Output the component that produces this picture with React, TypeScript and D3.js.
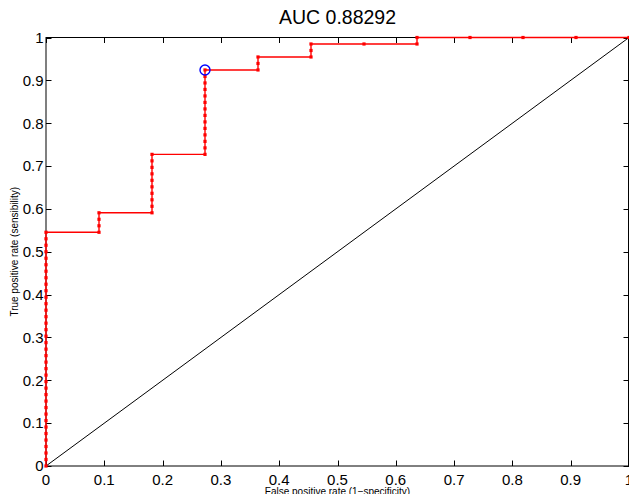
import React from "react";
import * as d3 from "d3";

// ROC operating points, as counts of false positives (of 11 negatives)
// and true positives (of 66 positives)
const negatives = 11;
const positives = 66;
const fpCounts = [
  0, 0, 0, 0, 0, 0, 0, 0, 0, 0, 0, 0, 0, 0, 0, 0, 0, 0, 0, 0, 0, 0, 0, 0, 0, 0, 0, 0, 0, 0, 0, 0, 0, 0, 0, 0, 0,
  1, 1, 1, 1,
  2, 2, 2, 2, 2, 2, 2, 2, 2, 2,
  3, 3, 3, 3, 3, 3, 3, 3, 3, 3, 3, 3, 3, 3,
  4, 4, 4,
  5, 5, 5,
  6,
  7, 7,
  8, 9, 10, 11,
];
const tpCounts = [
  0, 1, 2, 3, 4, 5, 6, 7, 8, 9, 10, 11, 12, 13, 14, 15, 16, 17, 18, 19, 20, 21, 22, 23, 24, 25, 26, 27, 28, 29, 30, 31, 32, 33, 34, 35, 36,
  36, 37, 38, 39,
  39, 40, 41, 42, 43, 44, 45, 46, 47, 48,
  48, 49, 50, 51, 52, 53, 54, 55, 56, 57, 58, 59, 60, 61,
  61, 62, 63,
  63, 64, 65,
  65,
  65, 66,
  66, 66, 66, 66,
];
const optimalPoint = { fp: 3, tp: 61 };
const aucValue = "0.88292";
const xTicks = [0, 0.1, 0.2, 0.3, 0.4, 0.5, 0.6, 0.7, 0.8, 0.9, 1];
const yTicks = [0, 0.1, 0.2, 0.3, 0.4, 0.5, 0.6, 0.7, 0.8, 0.9, 1];
const titleText = `AUC ${aucValue}`;
const xLabel = "False positive rate (1\u2212specificity)";
const yLabel = "True positive rate (sensibility)";

const W = 629;
const H = 494;
const left = 46;
const right = 629;
const top = 37.5;
const bottom = 466;
const FONT = "'Liberation Sans', Arial, Helvetica, sans-serif";

export default function App() {
  const x = d3.scaleLinear().domain([0, 1]).range([left, right]);
  const y = d3.scaleLinear().domain([0, 1]).range([bottom, top]);
  const pts = fpCounts.map((f, i) => [f / negatives, tpCounts[i] / positives] as [number, number]);
  const line = d3
    .line<[number, number]>()
    .x((d) => x(d[0]))
    .y((d) => y(d[1]));
  const fmt = (v: number) => (v === 0 || v === 1 ? String(v) : v.toFixed(1).replace(/^0(?=\.)/, "0"));
  const tickLen = 5.5;
  return (
    <svg
      width={W}
      height={H}
      style={{ position: "absolute", left: 0, top: 0, background: "#fff" }}
      fontFamily={FONT}
    >
      <rect x={0} y={0} width={W} height={H} fill="#fff" />
      {/* diagonal */}
      <line x1={x(0)} y1={y(0)} x2={x(1)} y2={y(1)} stroke="#000" strokeWidth={1} />
      {/* ticks */}
      {xTicks.map((t) => (
        <g key={"xt" + t}>
          <line x1={Math.round(x(t)) + 0.5} x2={Math.round(x(t)) + 0.5} y1={bottom} y2={bottom - tickLen} stroke="#000" />
          <line x1={Math.round(x(t)) + 0.5} x2={Math.round(x(t)) + 0.5} y1={top} y2={top + tickLen} stroke="#000" />
          <text x={x(t)} y={484.5} textAnchor="middle" fontSize={15} fill="#000">
            {fmt(t)}
          </text>
        </g>
      ))}
      {yTicks.map((t) => (
        <g key={"yt" + t}>
          <line x1={left} x2={left + tickLen} y1={Math.round(y(t)) + 0.5} y2={Math.round(y(t)) + 0.5} stroke="#000" />
          <line x1={right} x2={right - tickLen} y1={Math.round(y(t)) + 0.5} y2={Math.round(y(t)) + 0.5} stroke="#000" />
          <text x={43.5} y={y(t) + 5.3} textAnchor="end" fontSize={15} fill="#000">
            {fmt(t)}
          </text>
        </g>
      ))}
      {/* box */}
      <rect x={left} y={top} width={right - 0.5 - left} height={bottom - top} fill="none" stroke="#000" strokeWidth={1} />
      {/* ROC curve */}
      <path d={line(pts) || ""} fill="none" stroke="#ff0000" strokeWidth={1.4} />
      {pts.map((p, i) => (
        <rect key={"p" + i} x={x(p[0]) - 1.6} y={y(p[1]) - 1.6} width={3.2} height={3.2} fill="#ff0000" />
      ))}
      <circle
        cx={x(optimalPoint.fp / negatives)}
        cy={y(optimalPoint.tp / positives)}
        r={5}
        fill="none"
        stroke="#0000ff"
        strokeWidth={1.4}
      />
      {/* title and labels */}
      <text x={(left + right) / 2} y={24} textAnchor="middle" fontSize={19.5} fill="#000">
        {titleText}
      </text>
      <text x={(left + right) / 2} y={494.5} textAnchor="middle" fontSize={10} fill="#000">
        {xLabel}
      </text>
      <text
        transform={`translate(18,${(top + bottom) / 2}) rotate(-90)`}
        textAnchor="middle"
        fontSize={10}
        fill="#000"
      >
        {yLabel}
      </text>
    </svg>
  );
}
